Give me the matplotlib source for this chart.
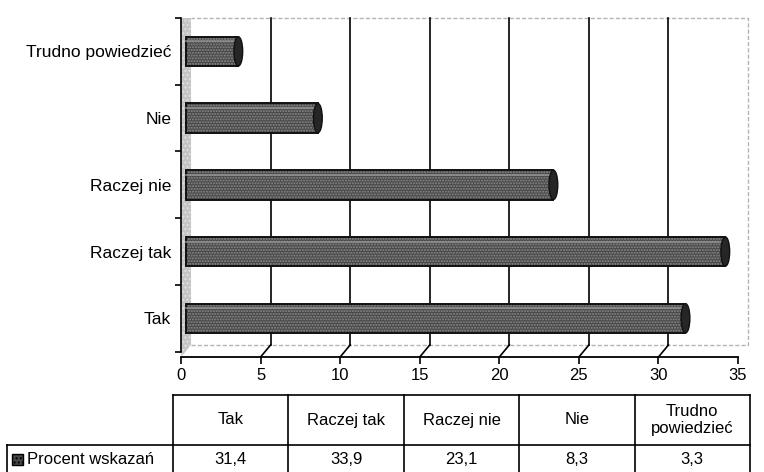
import numpy as np
import matplotlib.pyplot as plt
from matplotlib.patches import Ellipse, Polygon, Rectangle

plt.rcParams['font.family'] = ['Liberation Sans', 'DejaVu Sans']
plt.rcParams['hatch.color'] = '#8c8c8c'
plt.rcParams['hatch.linewidth'] = 1.0

categories = ['Tak', 'Raczej tak', 'Raczej nie', 'Nie', 'Trudno powiedzieć']
table_headers = ['Tak', 'Raczej tak', 'Raczej nie', 'Nie', 'Trudno\npowiedzieć']
values = [31.4, 33.9, 23.1, 8.3, 3.3]
series_name = 'Procent wskazań'
xticks = [0, 5, 10, 15, 20, 25, 30, 35]

W, H = 764, 472
fig = plt.figure(figsize=(W / 100, H / 100), dpi=100)

# main chart area (pixel box 181..738 x 18..357)
ax = fig.add_axes([181 / W, (H - 357) / H, (738 - 181) / W, (357 - 18) / H])
ax.set_xlim(0, 35)
ax.set_ylim(-0.58, 4.48)

dx, dy = 0.63, 0.18   # depth of the fake 3d wall
top = 4.48 + 0.02

# side wall and back wall
side = Polygon([(0, -0.58), (dx, -0.58 + dy), (dx, top), (0, top)], closed=True,
               facecolor='#c4c4c4', edgecolor='#e0e0e0', lw=0, hatch='....', clip_on=False, zorder=1)
ax.add_patch(side)
ax.plot([dx, 35 + dx, 35 + dx, dx], [-0.58 + dy, -0.58 + dy, top, top], color='#b5b5b5',
        lw=1, ls=(0, (3, 1.5)), clip_on=False, zorder=1)

# gridlines on the back wall, with slanted links to the ticks
for v in xticks[1:-1]:
    ax.plot([v + dx, v + dx], [-0.58 + dy, top], color='black', lw=1.2, clip_on=False, zorder=2)
    ax.plot([v, v + dx], [-0.58, -0.58 + dy], color='black', lw=1.2, clip_on=False, zorder=2)

ypos = np.arange(len(categories))
depth = 0.3
bh = 0.44
ax.barh(ypos, values, left=depth, height=bh, color='#474747', edgecolor='#8c8c8c',
        linewidth=0, hatch='......', zorder=3)
ax.barh(ypos, values, left=depth, height=bh, color='none', edgecolor='#111111',
        linewidth=1.4, zorder=4)
for y, v in zip(ypos, values):
    ax.plot([depth, depth + v], [y + bh / 2 - 0.07, y + bh / 2 - 0.07], color='#a0a0a0',
            lw=1.5, alpha=0.6, zorder=4)
    ax.add_patch(Ellipse((depth + v, y), 0.55, bh, facecolor='#262626', edgecolor='#111111',
                         lw=1, zorder=5))

for s in ['top', 'right']:
    ax.spines[s].set_visible(False)
ax.spines['left'].set_bounds(-0.5, 4.5)
ax.spines['left'].set_linewidth(1.2)
ax.spines['bottom'].set_linewidth(1.3)

ax.set_xticks(xticks)
ax.set_xticklabels([str(t) for t in xticks], fontsize=12)
ax.tick_params(axis='x', direction='out', length=5, width=1.2, pad=3)
ax.set_yticks(np.arange(-0.5, 4.6, 1.0))
ax.set_yticklabels([])
ax.set_yticks(ypos, minor=True)
ax.set_yticklabels(categories, minor=True, fontsize=12.5)
ax.tick_params(axis='y', which='major', direction='out', length=4, width=1.2)
ax.tick_params(axis='y', which='minor', length=0, pad=7)

# data table below the chart
tax = fig.add_axes([0, 0, 1, 1], zorder=-1)
tax.set_xlim(0, W)
tax.set_ylim(H, 0)
tax.axis('off')

col_left = 173
col_w = 115.4
n = len(values)
edges = [col_left + i * col_w for i in range(n + 1)]
ytop, ymid, ybot = 395, 445, 472
tax.plot([edges[0], edges[-1]], [ytop, ytop], color='black', lw=1.2)
tax.plot([7, edges[-1]], [ymid, ymid], color='black', lw=1.2)
for x in edges:
    tax.plot([x, x], [ytop, ybot], color='black', lw=1.2)
tax.plot([7, 7], [ymid, ybot], color='black', lw=1.2)

for i, (h, v) in enumerate(zip(table_headers, values)):
    cx = (edges[i] + edges[i + 1]) / 2
    tax.text(cx, (ytop + ymid) / 2, h, ha='center', va='center', fontsize=12,
             linespacing=1.25)
    tax.text(cx, 460, f'{v:.1f}'.replace('.', ','), ha='center', va='center', fontsize=12)

tax.add_patch(Rectangle((12, 454), 11, 11, facecolor='#474747', edgecolor='black',
                        hatch='....', lw=1))
tax.text(27, 460, series_name, ha='left', va='center', fontsize=12)

fig.savefig('out.png', dpi=100)
